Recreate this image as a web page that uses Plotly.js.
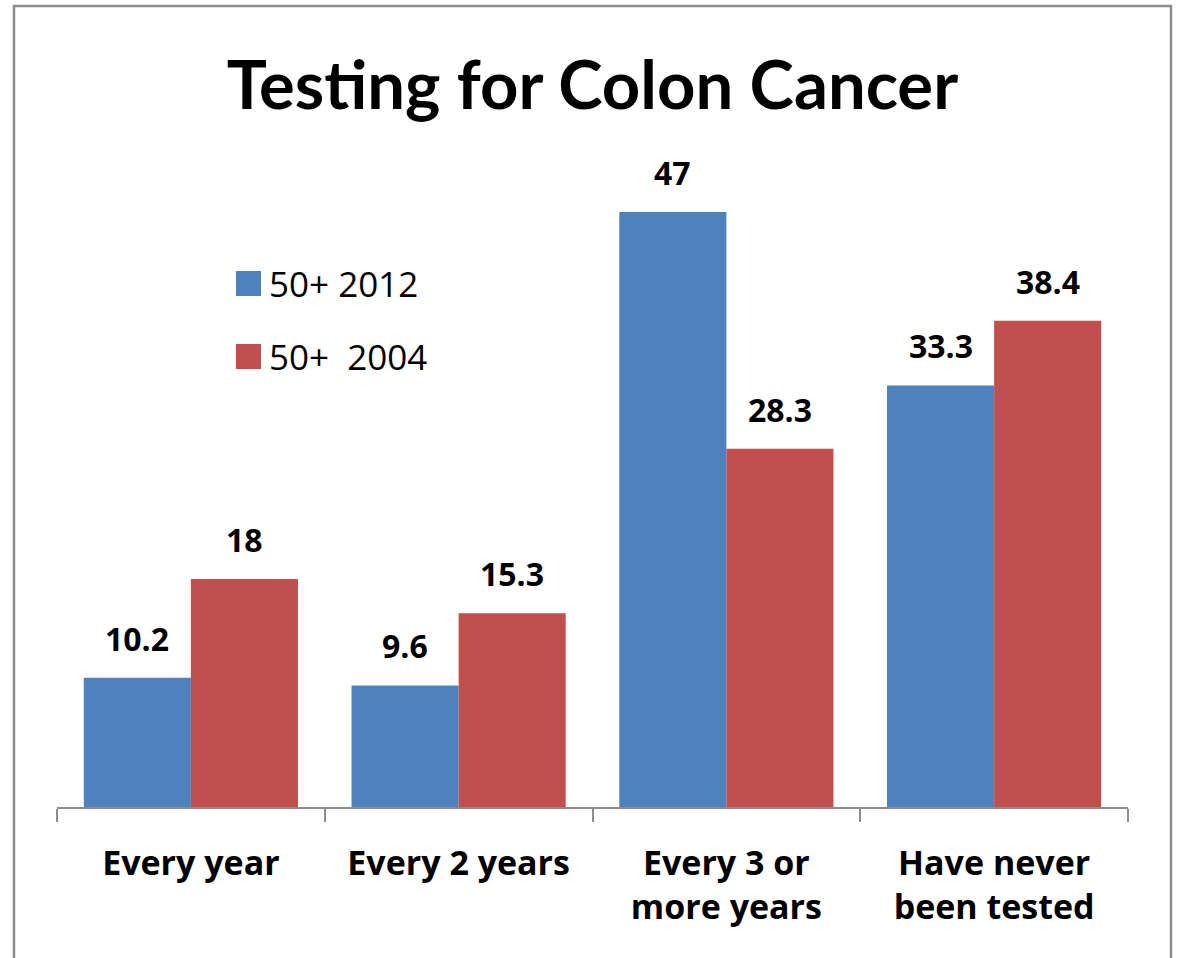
<!DOCTYPE html>
<html>
<head>
<meta charset="utf-8">
<script src="https://cdn.plot.ly/plotly-3.0.1.min.js"></script>
<style>html,body{margin:0;padding:0;background:#fff;}#chart{width:1178px;height:958px;}</style>
</head>
<body>
<div id="chart"></div>
<script>
const categories = ["Every year", "Every 2 years", "Every 3 or<br>more years", "Have never<br>been tested"];
const series2012 = [10.2, 9.6, 47, 33.3];
const series2004 = [18, 15.3, 28.3, 38.4];
const seriesNames = ["50+ 2012", "50+  2004"];
const colors = ["#4F81BD", "#C0504D"];

const W = 1178, H = 958;
const L = 57, R = 50, T = 174, B = 151;
const PW = W - L - R, PH = H - T - B;
const px = x => (x - L) / PW;
const py = y => (H - B - y) / PH;
const TITLE_FONT = "Lato, 'Open Sans', sans-serif";
const FONT = "'Open Sans', 'Noto Sans', sans-serif";

const traces = [
  {type: "bar", x: categories, y: series2012, name: seriesNames[0], marker: {color: colors[0]}, hoverinfo: "y"},
  {type: "bar", x: categories, y: series2004, name: seriesNames[1], marker: {color: colors[1]}, hoverinfo: "y"}
];

const annotations = [];
[series2012, series2004].forEach((s, k) => {
  s.forEach((v, i) => {
    annotations.push({
      x: i + (k === 0 ? -0.2 : 0.2), y: v, xref: "x", yref: "y",
      text: String(v), showarrow: false, yanchor: "bottom", yshift: 16,
      font: {family: FONT, size: 32, color: "#000", weight: "bold"}
    });
  });
});

// legend (drawn in paper coordinates)
const shapes = [];
const legendRows = [{y0: 271, y1: 296}, {y0: 344, y1: 369}];
legendRows.forEach((r, k) => {
  shapes.push({type: "rect", xref: "paper", yref: "paper",
    x0: px(236), x1: px(261), y0: py(r.y1), y1: py(r.y0),
    fillcolor: colors[k], line: {width: 0}});
  annotations.push({xref: "paper", yref: "paper", x: px(267), y: py((r.y0 + r.y1) / 2),
    xanchor: "left", yanchor: "middle", showarrow: false, text: seriesNames[k].replace(/  /g, "&nbsp; "),
    font: {family: FONT, size: 35, color: "#000"}});
});

// outer frame
shapes.push({type: "rect", xref: "paper", yref: "paper",
  x0: px(14), x1: px(1171), y0: py(990), y1: py(6),
  line: {color: "#8c8c8c", width: 2.5}, fillcolor: "rgba(0,0,0,0)", layer: "above"});

const layout = {
  width: W, height: H,
  margin: {l: L, r: R, t: T, b: B, pad: 0},
  paper_bgcolor: "#fff", plot_bgcolor: "#fff",
  showlegend: false,
  barmode: "group", bargap: 0.2, bargroupgap: 0,
  title: {text: "<b>Testing for Colon Cancer</b>", x: 0.5, xref: "paper", y: 1 - 86 / H, yanchor: "middle",
    font: {family: TITLE_FONT, size: 67, color: "#000"}},
  xaxis: {
    type: "category", range: [-0.5, 3.5],
    tickson: "boundaries", ticks: "outside", ticklen: 13, tickwidth: 2, tickcolor: "#8c8c8c",
    showline: true, linecolor: "#8c8c8c", linewidth: 2, showgrid: false, zeroline: false,
    tickfont: {family: FONT, size: 34, color: "#000", weight: "bold"}, ticklabelstandoff: 25
  },
  yaxis: {range: [0, 50], visible: false, showgrid: false, zeroline: false},
  annotations: annotations,
  shapes: shapes,
  font: {family: FONT}
};

Plotly.newPlot("chart", traces, layout, {displayModeBar: false, staticPlot: true});
</script>
</body>
</html>
